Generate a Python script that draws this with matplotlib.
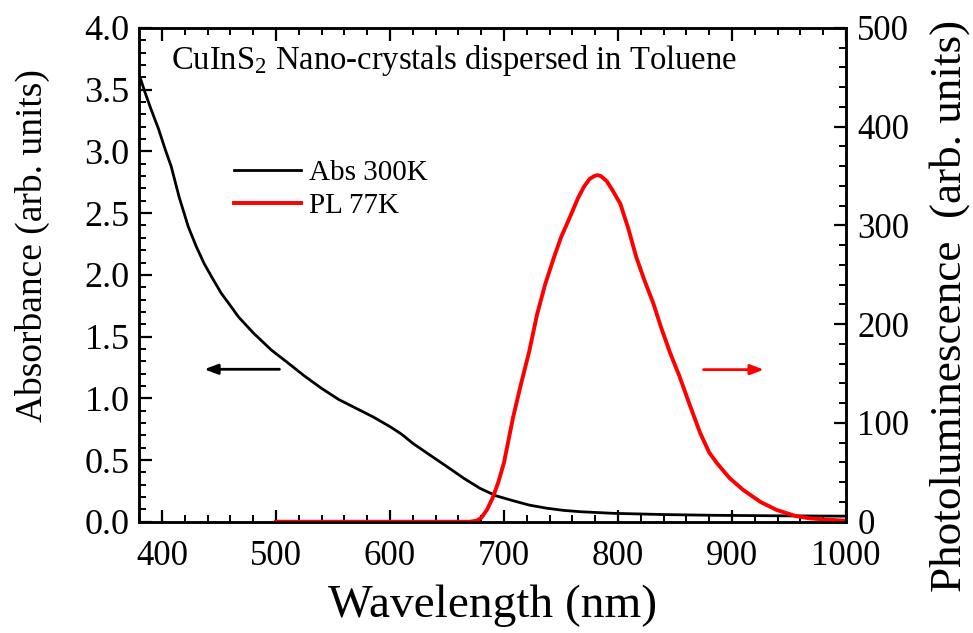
import matplotlib
matplotlib.use("Agg")
import matplotlib.pyplot as plt
from matplotlib.ticker import MultipleLocator

plt.rcParams['font.family'] = ['Liberation Serif', 'DejaVu Serif']
plt.rcParams['mathtext.fontset'] = 'custom'
plt.rcParams['mathtext.rm'] = 'Liberation Serif'
plt.rcParams['mathtext.it'] = 'Liberation Serif:italic'

# Absorption spectrum at 300 K (left axis)
abs_wl = [380, 385, 390, 397, 403, 408, 415, 423, 430, 437, 445, 452, 460,
          467, 480, 496, 510, 525, 540, 555, 570, 585, 600, 610, 620, 635,
          650, 665, 679, 693, 708, 722, 737, 752, 767, 796, 840, 884, 940,
          1000]
abs_val = [3.62, 3.48, 3.35, 3.18, 3.01, 2.88, 2.63, 2.39, 2.23, 2.09, 1.96,
           1.85, 1.75, 1.66, 1.53, 1.39, 1.29, 1.18, 1.08, 0.99, 0.92, 0.85,
           0.77, 0.71, 0.635, 0.54, 0.446, 0.35, 0.27, 0.21, 0.17, 0.135,
           0.11, 0.092, 0.081, 0.068, 0.058, 0.052, 0.048, 0.045]

# Photoluminescence spectrum at 77 K (right axis)
pl_wl = [500, 600, 670, 676, 680, 685, 690, 695, 700, 708, 715, 722, 729,
         736, 743, 750, 758, 765, 770, 775, 779, 782, 785, 790, 795, 802,
         809, 816, 823, 831, 838, 846, 854, 863, 872, 880, 887, 898, 910,
         925, 939, 955, 968, 985, 1000]
pl_val = [0, 0, 0, 1, 4, 12, 24, 40, 60, 106, 140, 172, 210, 240, 265, 288,
          309, 328, 339, 347, 350, 351, 350, 345, 336, 322, 297, 268, 245,
          221, 196, 170, 147, 118, 90, 70, 59, 44, 32, 20, 12, 6, 3.4, 2, 1]

x_ticks = [400, 500, 600, 700, 800, 900, 1000]
left_ticks = [0.0, 0.5, 1.0, 1.5, 2.0, 2.5, 3.0, 3.5, 4.0]
right_ticks = [0, 100, 200, 300, 400, 500]

fig = plt.figure(figsize=(9.73, 6.33), dpi=100)
ax = fig.add_axes([0.1431, 0.1758, 0.7264, 0.7800])
ax2 = ax.twinx()

ax.plot(abs_wl, abs_val, color='black', lw=2.0, label='Abs 300K', zorder=3)
ax2.plot(pl_wl, pl_val, color='#ff0000', lw=2.8, label='PL 77K', zorder=2)

ax.set_xlim(380, 1000)
ax.set_ylim(0, 4.0)
ax2.set_ylim(0, 500)

ax.set_xticks(x_ticks)
ax.set_xticklabels([str(v) for v in x_ticks])
ax.set_yticks(left_ticks)
ax.set_yticklabels([f"{v:.1f}" for v in left_ticks])
ax2.set_yticks(right_ticks)
ax2.set_yticklabels([str(v) for v in right_ticks])
ax.xaxis.set_minor_locator(MultipleLocator(20))
ax.yaxis.set_minor_locator(MultipleLocator(0.1))
ax2.yaxis.set_minor_locator(MultipleLocator(20))

for a in (ax, ax2):
    for s in a.spines.values():
        s.set_linewidth(1.8)
ax.tick_params(axis='x', which='both', direction='in', top=True, bottom=True,
               labelsize=25, pad=13.5)
ax.tick_params(axis='y', which='both', direction='in', left=True, right=False,
               labelsize=26, pad=7)
ax2.tick_params(axis='y', which='both', direction='in', right=True, left=False,
                labelsize=25, pad=8)
for a in (ax, ax2):
    a.tick_params(which='major', length=9, width=1.6)
    a.tick_params(which='minor', length=5, width=1.4)

ax.set_xlabel('Wavelength (nm)', fontsize=34, labelpad=8)
fig.text(0.033, 0.612, 'Absorbance (arb. units)', rotation=90, fontsize=27,
         ha='center', va='center')
fig.text(0.976, 0.516, 'Photoluminescence  (arb. units)', rotation=90,
         fontsize=32.5, ha='center', va='center')

ax.text(0.045, 0.935, r'CuInS$_\mathrm{2}$ Nano-crystals dispersed in Toluene',
        transform=ax.transAxes, fontsize=23.5, ha='left', va='center')

h1, l1 = ax.get_legend_handles_labels()
h2, l2 = ax2.get_legend_handles_labels()
leg = ax2.legend(h1 + h2, l1 + l2, loc='upper left',
                 bbox_to_anchor=(0.117, 0.757), frameon=False, fontsize=21,
                 handlelength=2.3, handletextpad=0.3, labelspacing=0.22,
                 borderaxespad=0)

# direction arrows pointing to each curve's axis
ax.annotate('', xy=(437, 1.235), xytext=(503, 1.235),
            arrowprops=dict(arrowstyle='-|>,head_length=0.8,head_width=0.3',
                            color='black', lw=2.0, shrinkA=0, shrinkB=0))
ax2.annotate('', xy=(928, 154), xytext=(875, 154),
             arrowprops=dict(arrowstyle='-|>,head_length=0.8,head_width=0.3',
                             color='#ff0000', lw=2.0, shrinkA=0, shrinkB=0))

fig.savefig('out.png', dpi=100)
